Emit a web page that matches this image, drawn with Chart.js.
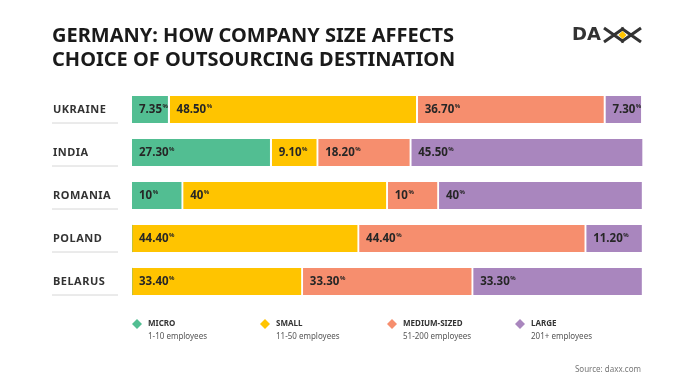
<!DOCTYPE html>
<html>
<head>
<meta charset="utf-8">
<script src="https://cdn.jsdelivr.net/npm/chart.js@4.4.0/dist/chart.umd.min.js"></script>
<style>
  html, body { margin: 0; padding: 0; background: #fff; }
  #wrap { position: relative; width: 696px; height: 385px; }
</style>
</head>
<body>
<div id="wrap"><canvas id="chart" width="696" height="385"></canvas></div>
<script>
// Data (percent of companies)
const countries = ['UKRAINE', 'INDIA', 'ROMANIA', 'POLAND', 'BELARUS'];
const labelDecimals = [2, 2, 0, 2, 2];
const micro = [7.35, 27.3, 10, 0, 0];
const small = [48.5, 9.1, 40, 44.4, 33.4];
const medium = [36.7, 18.2, 10, 44.4, 33.3];
const large = [7.3, 45.5, 40, 11.2, 33.3];

const seriesNames = ['MICRO', 'SMALL', 'MEDIUM-SIZED', 'LARGE'];
const seriesNotes = ['1-10 employees', '11-50 employees', '51-200 employees', '201+ employees'];
const colors = ['#52be92', '#ffc400', '#f68e6e', '#a986be'];

const FONT = '"Noto Sans", "Open Sans", sans-serif';
const ink = '#262626';

// title, logo, legend, source and row labels
const decor = {
    id: 'decor',
    afterDraw(chart) {
        const ctx = chart.ctx;
        const y = chart.scales.y;
        ctx.save();

        // title
        ctx.fillStyle = '#1a1a1a';
        ctx.font = 'bold 20px ' + FONT;
        ctx.textBaseline = 'middle';
        ctx.textAlign = 'left';
        ctx.fillText('GERMANY: HOW COMPANY SIZE AFFECTS', 52, 36);
        ctx.fillText('CHOICE OF OUTSOURCING DESTINATION', 52, 60);

        // logo
        ctx.fillStyle = '#333';
        ctx.font = 'bold 18px "DejaVu Sans", sans-serif';
        ctx.fillText('DA', 572, 35);
        ctx.strokeStyle = '#333';
        ctx.lineWidth = 3;
        ctx.beginPath();
        ctx.moveTo(604, 28); ctx.lineTo(624, 42);
        ctx.moveTo(604, 42); ctx.lineTo(624, 28);
        ctx.moveTo(621, 28); ctx.lineTo(641, 42);
        ctx.moveTo(621, 42); ctx.lineTo(641, 28);
        ctx.stroke();
        ctx.fillStyle = '#ffc400';
        ctx.beginPath();
        ctx.moveTo(622.5, 31); ctx.lineTo(626.5, 35); ctx.lineTo(622.5, 39); ctx.lineTo(618.5, 35);
        ctx.closePath();
        ctx.fill();

        // row labels with underline
        countries.forEach((c, i) => {
            const py = y.getPixelForValue(i);
            ctx.fillStyle = '#333';
            ctx.font = 'bold 11px ' + FONT;
            ctx.letterSpacing = '0.5px';
            ctx.fillText(c, 53, py);
            ctx.letterSpacing = '0px';
            ctx.strokeStyle = '#d6d6d6';
            ctx.lineWidth = 1;
            ctx.beginPath();
            ctx.moveTo(52, py + 13.5);
            ctx.lineTo(118, py + 13.5);
            ctx.stroke();
        });

        // legend
        const lx = [137, 265, 392, 520];
        seriesNames.forEach((n, i) => {
            const cx = lx[i], cy = 324;
            ctx.fillStyle = colors[i];
            ctx.beginPath();
            ctx.moveTo(cx, cy - 5); ctx.lineTo(cx + 5, cy); ctx.lineTo(cx, cy + 5); ctx.lineTo(cx - 5, cy);
            ctx.closePath();
            ctx.fill();
            ctx.fillStyle = '#333';
            ctx.font = 'bold 8px ' + FONT;
            ctx.fillText(n, cx + 11, cy);
            ctx.fillStyle = '#555';
            ctx.font = '8px ' + FONT;
            ctx.fillText(seriesNotes[i], cx + 11, cy + 13);
        });

        // source
        ctx.fillStyle = '#777';
        ctx.font = '8px ' + FONT;
        ctx.textAlign = 'right';
        ctx.fillText('Source: daxx.com', 641, 370);
        ctx.restore();
    }
};

// value labels inside each segment, with a small raised % sign
const valueLabels = {
    id: 'valueLabels',
    afterDatasetsDraw(chart) {
        const ctx = chart.ctx;
        ctx.save();
        ctx.textBaseline = 'middle';
        ctx.textAlign = 'left';
        chart.data.datasets.forEach((ds, di) => {
            chart.getDatasetMeta(di).data.forEach((bar, i) => {
                const v = ds.data[i];
                if (!v) return;
                const txt = v.toFixed(labelDecimals[i]);
                const left = Math.min(bar.x, bar.base);
                ctx.fillStyle = ink;
                ctx.font = 'bold 11.5px ' + FONT;
                ctx.fillText(txt, left + 7, bar.y);
                const w = ctx.measureText(txt).width;
                ctx.font = 'bold 6px ' + FONT;
                ctx.fillText('%', left + 7 + w + 0.5, bar.y - 3.5);
            });
        });
        ctx.restore();
    }
};

new Chart(document.getElementById('chart'), {
    type: 'bar',
    data: {
        labels: countries,
        datasets: [micro, small, medium, large].map((d, i) => ({
            label: seriesNames[i],
            data: d,
            backgroundColor: colors[i],
            borderColor: '#ffffff',
            borderWidth: { left: 0, right: 2, top: 0, bottom: 0 },
            borderSkipped: false,
            barThickness: 27
        }))
    },
    options: {
        indexAxis: 'y',
        responsive: false,
        animation: false,
        layout: { padding: { left: 132, right: 52, top: 88, bottom: 82 } },
        plugins: { legend: { display: false }, tooltip: { enabled: false } },
        scales: {
            x: { stacked: true, min: 0, max: 100.1, display: false },
            y: { stacked: true, display: false }
        }
    },
    plugins: [decor, valueLabels]
});
</script>
</body>
</html>
